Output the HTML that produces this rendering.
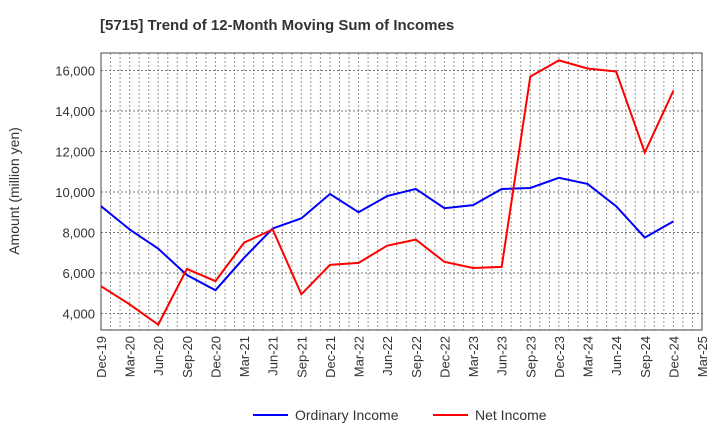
<!DOCTYPE html>
<html><head><meta charset="utf-8"><style>
body{margin:0;background:#fff;font-family:"Liberation Sans",Arial,sans-serif}
</style></head><body>
<svg id="c" width="720" height="440" xmlns="http://www.w3.org/2000/svg">
<text x="100" y="30" font-size="15" font-weight="bold" fill="#333">[5715]  Trend of 12-Month Moving Sum of Incomes</text>
<g id="grid"></g><g id="axes"></g><g id="series"></g>
<g>
<line x1="253" y1="415" x2="288" y2="415" stroke="#0000ff" stroke-width="2"/>
<text x="295" y="420" font-size="14" fill="#333">Ordinary Income</text>
<line x1="433" y1="415" x2="468" y2="415" stroke="#ff0000" stroke-width="2"/>
<text x="475" y="420" font-size="14" fill="#333">Net Income</text>
</g>
<text transform="translate(19,191) rotate(-90)" text-anchor="middle" font-size="14" fill="#333">Amount (million yen)</text>
</svg>
<script>
const categories=["Dec-19","Mar-20","Jun-20","Sep-20","Dec-20","Mar-21","Jun-21","Sep-21","Dec-21","Mar-22","Jun-22","Sep-22","Dec-22","Mar-23","Jun-23","Sep-23","Dec-23","Mar-24","Jun-24","Sep-24","Dec-24","Mar-25"];
const ordinaryIncome=[9300,8150,7200,5900,5150,6750,8200,8700,9900,9000,9800,10150,9200,9350,10150,10200,10700,10400,9300,7750,8550];
const netIncome=[5350,4450,3450,6200,5600,7500,8150,4950,6400,6500,7350,7650,6550,6250,6300,15700,16500,16100,15950,11950,15000];
const yTicks=[4000,6000,8000,10000,12000,14000,16000];
const L=101,R=702,T=53,B=330;
const NS="http://www.w3.org/2000/svg";
const xs=i=>L+i*(R-L)/(categories.length-1);
const ys=v=>70.5+(16000-v)*40.5/2000;
function mk(tag,attrs,parent){const e=document.createElementNS(NS,tag);for(const k in attrs)e.setAttribute(k,attrs[k]);document.getElementById(parent).appendChild(e);return e;}
// monthly vertical grid
for(let m=1;m<(categories.length-1)*3;m++){const x=L+m*(R-L)/((categories.length-1)*3);
const g=mk('line',{x1:x,x2:x,y1:T,y2:B,stroke:'#999','stroke-dasharray':'2,2','stroke-width':1},'grid');
}
yTicks.forEach(v=>{const y=ys(v);
const g=mk('line',{x1:L,x2:R,y1:y,y2:y,stroke:'#777','stroke-dasharray':'2,2','stroke-width':1},'grid');

const t=mk('text',{x:L-6,y:y+5,'text-anchor':'end','font-size':13,fill:'#333'},'axes');t.textContent=v.toLocaleString('en-US');
});
const fr=mk('rect',{x:L,y:T,width:R-L,height:B-T,fill:'none',stroke:'#444','stroke-width':1},'axes');

categories.forEach((c,i)=>{const x=xs(i);
const t=mk('text',{transform:`translate(${x+5},${B+6}) rotate(-90)`,'text-anchor':'end','font-size':13,fill:'#333'},'axes');t.textContent=c;
});
function line(arr,color,name){const p=mk('polyline',{points:arr.map((v,i)=>xs(i)+','+ys(v)).join(' '),fill:'none',stroke:color,'stroke-width':2},'series');
}
line(ordinaryIncome,'#0000ff','ordinary-income-line');
line(netIncome,'#ff0000','net-income-line');
</script>
</body></html>
